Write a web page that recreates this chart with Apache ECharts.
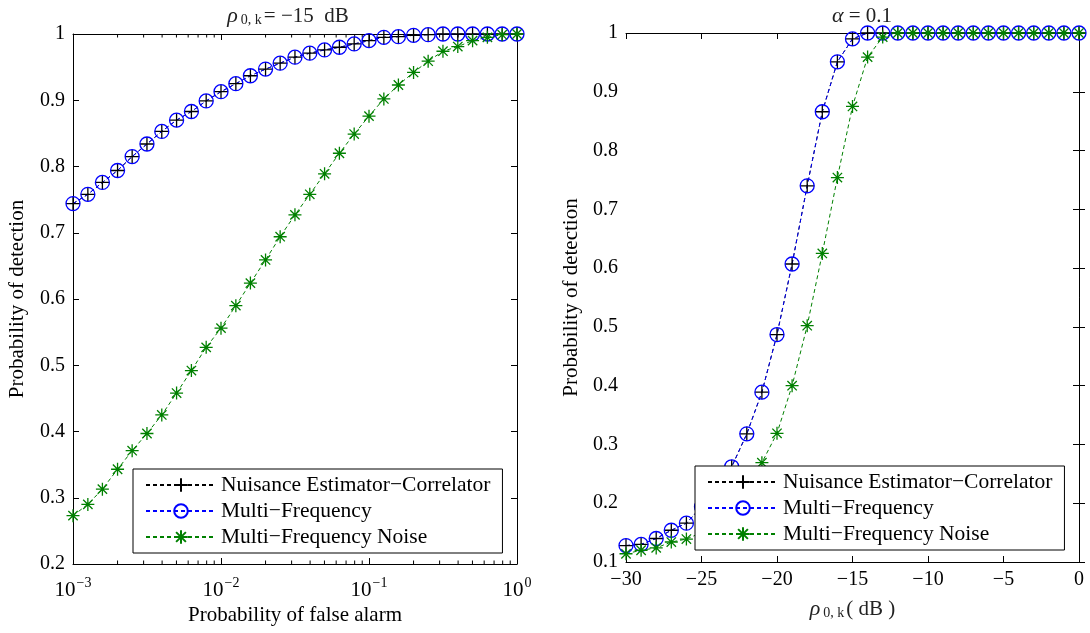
<!DOCTYPE html>
<html>
<head>
<meta charset="utf-8">
<script src="https://cdn.jsdelivr.net/npm/echarts@6/dist/echarts.min.js"></script>
<style>
html,body{margin:0;padding:0;background:#fff;}
#chart{width:1090px;height:633px;}
</style>
</head>
<body>
<div id="chart"></div>
<script>
// ---------------- data ----------------
const seriesNames = ['Nuisance Estimator\u2212Correlator', 'Multi\u2212Frequency', 'Multi\u2212Frequency Noise'];

// left panel: probability of false alarm (log axis)
const leftPfa = [0.001, 0.00126, 0.00158, 0.002, 0.00251, 0.00316, 0.00398, 0.00501, 0.00631, 0.00794,
                 0.01, 0.0126, 0.0158, 0.02, 0.0251, 0.0316, 0.0398, 0.0501, 0.0631, 0.0794,
                 0.1, 0.126, 0.158, 0.2, 0.251, 0.316, 0.398, 0.501, 0.631, 0.794, 1];
const leftNEC = [0.744, 0.758, 0.776, 0.794, 0.815, 0.834, 0.853, 0.870, 0.883, 0.899,
                 0.913, 0.925, 0.937, 0.947, 0.956, 0.965, 0.971, 0.976, 0.980, 0.985,
                 0.990, 0.995, 0.996, 0.998, 0.999, 1, 1, 1, 1, 1, 1];
const leftMF  = [0.744, 0.758, 0.776, 0.794, 0.815, 0.834, 0.853, 0.870, 0.883, 0.899,
                 0.913, 0.925, 0.937, 0.947, 0.956, 0.965, 0.971, 0.976, 0.980, 0.985,
                 0.990, 0.995, 0.996, 0.998, 0.999, 1, 1, 1, 1, 1, 1];
const leftMFN = [0.273, 0.290, 0.313, 0.343, 0.371, 0.397, 0.425, 0.458, 0.492, 0.527,
                 0.556, 0.590, 0.624, 0.659, 0.694, 0.727, 0.758, 0.789, 0.820, 0.849,
                 0.876, 0.902, 0.923, 0.942, 0.959, 0.974, 0.981, 0.990, 0.995, 0.999, 1];
const leftMinorTicks = [0.002, 0.003, 0.004, 0.005, 0.006, 0.007, 0.008, 0.009,
                        0.02, 0.03, 0.04, 0.05, 0.06, 0.07, 0.08, 0.09,
                        0.2, 0.3, 0.4, 0.5, 0.6, 0.7, 0.8, 0.9];

// right panel: rho_{0,k} in dB
const rightSnr = [-30, -29, -28, -27, -26, -25, -24, -23, -22, -21, -20, -19, -18, -17, -16, -15,
                  -14, -13, -12, -11, -10, -9, -8, -7, -6, -5, -4, -3, -2, -1, 0];
const rightNEC = [0.128, 0.130, 0.140, 0.154, 0.166, 0.194, 0.225, 0.262, 0.318, 0.389, 0.487, 0.607,
                  0.740, 0.866, 0.951, 0.990, 1, 1, 1, 1, 1, 1, 1, 1, 1, 1, 1, 1, 1, 1, 1];
const rightMF  = [0.128, 0.130, 0.140, 0.154, 0.166, 0.194, 0.225, 0.262, 0.318, 0.389, 0.487, 0.607,
                  0.740, 0.866, 0.951, 0.990, 1, 1, 1, 1, 1, 1, 1, 1, 1, 1, 1, 1, 1, 1, 1];
const rightMFN = [0.114, 0.120, 0.124, 0.134, 0.139, 0.150, 0.170, 0.200, 0.235, 0.269, 0.319, 0.400,
                  0.502, 0.625, 0.754, 0.875, 0.959, 0.993, 1, 1, 1, 1, 1, 1, 1, 1, 1, 1, 1, 1, 1];

// ---------------- styling ----------------
const FONT = 'Liberation Serif';
const BLACK = '#000000', BLUE = '#0000ff', GREEN = '#008000';
const PLUS = 'path://M0,-1L0,1M-1,0L1,0';
const STAR = 'path://M0,-1L0,1M-1,0L1,0M-0.72,-0.72L0.72,0.72M-0.72,0.72L0.72,-0.72';
const DASH = [4, 3];

function zip(xs, ys) { return xs.map((x, i) => [x, ys[i]]); }
function minus(v) { return v < 0 ? '\u2212' + (-v) : String(v); }
function yFmt(v) { return Math.abs(v - 1) < 1e-9 ? '1' : v.toFixed(1); }

function mkSeries(name, data, xi, yi, kind) {
  const base = {
    name: name, type: 'line', xAxisIndex: xi, yAxisIndex: yi, data: data,
    showAllSymbol: true, animation: false, z: 3,
    emphasis: { disabled: true }
  };
  if (kind === 0) {
    Object.assign(base, {
      symbol: PLUS, symbolSize: 14,
      lineStyle: { color: BLACK, width: 1, type: DASH },
      itemStyle: { color: 'rgba(0,0,0,0)', borderColor: BLACK, borderWidth: 1.3 }
    });
  } else if (kind === 1) {
    Object.assign(base, {
      symbol: 'circle', symbolSize: 14,
      lineStyle: { color: BLUE, width: 1, type: DASH },
      itemStyle: { color: 'rgba(0,0,0,0)', borderColor: BLUE, borderWidth: 1.3 }
    });
  } else {
    Object.assign(base, {
      symbol: STAR, symbolSize: 13,
      lineStyle: { color: GREEN, width: 1, type: DASH },
      itemStyle: { color: 'rgba(0,0,0,0)', borderColor: GREEN, borderWidth: 1.3 }
    });
  }
  return base;
}

const axisLineStyle = { show: true, lineStyle: { color: BLACK, width: 1 } };
const tickStyle = { show: true, inside: true, length: 6, lineStyle: { color: BLACK, width: 1 } };
const labelStyle = { color: BLACK, fontFamily: FONT, fontSize: 20 };

const legendCommon = {
  orient: 'vertical',
  backgroundColor: '#ffffff',
  borderColor: BLACK, borderWidth: 1, borderRadius: 0,
  padding: [5, 12, 5, 12],
  itemWidth: 70, itemHeight: 17, itemGap: 4,
  textStyle: { color: BLACK, fontFamily: FONT, fontSize: 21.5, lineHeight: 22 },
  selectedMode: false
};

const mathRich = {
  r: { fontFamily: FONT, fontSize: 22, fontStyle: 'italic', fontWeight: 'normal', color: '#222' },
  s: { fontFamily: FONT, fontSize: 14, fontWeight: 'normal', color: '#222', padding: [8, 2, 0, 3] },
  n: { fontFamily: FONT, fontSize: 21, fontWeight: 'normal', color: '#222' }
};

const option = {
  backgroundColor: '#ffffff',
  animation: false,
  title: [
    {
      text: '{r|\u03C1}{s|0, k}{n|= \u221215  dB}',
      left: 283, top: 0, textAlign: 'center',
      textStyle: { fontWeight: 'normal', fontFamily: FONT, rich: mathRich }
    },
    {
      text: '{r|\u03B1}{n| = 0.1}',
      left: 857, top: 0, textAlign: 'center',
      textStyle: { fontWeight: 'normal', fontFamily: FONT, rich: mathRich }
    }
  ],
  legend: [
    Object.assign({}, legendCommon, { left: 133, top: 469, data: seriesNames.slice(), id: 'L' }),
    Object.assign({}, legendCommon, { left: 695, top: 466, data: seriesNames.slice(), id: 'R' })
  ],
  grid: [
    { left: 73, right: 573, top: 34, bottom: 69 },
    { left: 626, right: 11, top: 33, bottom: 71 }
  ],
  xAxis: [
    {
      gridIndex: 0, type: 'log', logBase: 10, min: 0.001, max: 1, position: 'bottom',
      axisLine: axisLineStyle, axisTick: tickStyle, splitLine: { show: false },
      axisLabel: {
        margin: 12,
        formatter: function (v) {
          const e = Math.round(Math.log10(v));
          return '{b|10}{s|' + minus(e) + '}';
        },
        rich: {
          b: { fontFamily: FONT, fontSize: 21, color: BLACK },
          s: { fontFamily: FONT, fontSize: 14, color: BLACK, padding: [0, 0, 14, 1] }
        }
      },
      name: 'Probability of false alarm', nameLocation: 'middle', nameGap: 40,
      nameTextStyle: { color: BLACK, fontFamily: FONT, fontSize: 21 }
    },
    {
      gridIndex: 0, type: 'log', logBase: 10, min: 0.001, max: 1, position: 'top',
      axisLine: axisLineStyle, axisTick: tickStyle, axisLabel: { show: false }, splitLine: { show: false }
    },
    {
      gridIndex: 1, type: 'value', min: -30, max: 0, interval: 5, position: 'bottom',
      axisLine: axisLineStyle, axisTick: tickStyle, splitLine: { show: false },
      axisLabel: Object.assign({}, labelStyle, { margin: 8, formatter: minus }),
      name: '{r|\u03C1}{s|0, k}{n|( dB )}', nameLocation: 'middle', nameGap: 36,
      nameTextStyle: { rich: mathRich }
    },
    {
      gridIndex: 1, type: 'value', min: -30, max: 0, interval: 5, position: 'top',
      axisLine: axisLineStyle, axisTick: tickStyle, axisLabel: { show: false }, splitLine: { show: false }
    }
  ],
  yAxis: [
    {
      gridIndex: 0, type: 'value', min: 0.2, max: 1, interval: 0.1, position: 'left',
      axisLine: axisLineStyle, axisTick: tickStyle, splitLine: { show: false },
      axisLabel: Object.assign({}, labelStyle, { margin: 8, formatter: yFmt }),
      name: 'Probability of detection', nameLocation: 'middle', nameGap: 45, nameRotate: 90,
      nameTextStyle: { color: BLACK, fontFamily: FONT, fontSize: 21 }
    },
    {
      gridIndex: 0, type: 'value', min: 0.2, max: 1, interval: 0.1, position: 'right',
      axisLine: axisLineStyle, axisTick: tickStyle, axisLabel: { show: false }, splitLine: { show: false }
    },
    {
      gridIndex: 1, type: 'value', min: 0.1, max: 1, interval: 0.1, position: 'left',
      axisLine: axisLineStyle, axisTick: tickStyle, splitLine: { show: false },
      axisLabel: Object.assign({}, labelStyle, { margin: 8, formatter: yFmt }),
      name: 'Probability of detection', nameLocation: 'middle', nameGap: 44, nameRotate: 90,
      nameTextStyle: { color: BLACK, fontFamily: FONT, fontSize: 21 }
    },
    {
      gridIndex: 1, type: 'value', min: 0.1, max: 1, interval: 0.1, position: 'right',
      axisLine: axisLineStyle, axisTick: tickStyle, axisLabel: { show: false }, splitLine: { show: false }
    }
  ],
  series: [
    {
      type: 'custom', xAxisIndex: 0, yAxisIndex: 0, silent: true, z: 2, animation: false,
      data: leftMinorTicks.map(v => [v]),
      renderItem: function (params, api) {
        const b = api.coord([api.value(0), 0.2]);
        const t = api.coord([api.value(0), 1]);
        const st = { stroke: BLACK, lineWidth: 1 };
        return {
          type: 'group', children: [
            { type: 'line', shape: { x1: b[0], y1: b[1], x2: b[0], y2: b[1] - 3.5 }, style: st },
            { type: 'line', shape: { x1: t[0], y1: t[1], x2: t[0], y2: t[1] + 3.5 }, style: st }
          ]
        };
      }
    },
    mkSeries(seriesNames[0], zip(leftPfa, leftNEC), 0, 0, 0),
    mkSeries(seriesNames[1], zip(leftPfa, leftMF), 0, 0, 1),
    mkSeries(seriesNames[2], zip(leftPfa, leftMFN), 0, 0, 2),
    mkSeries(seriesNames[0], zip(rightSnr, rightNEC), 2, 2, 0),
    mkSeries(seriesNames[1], zip(rightSnr, rightMF), 2, 2, 1),
    mkSeries(seriesNames[2], zip(rightSnr, rightMFN), 2, 2, 2)
  ]
};

const chart = echarts.init(document.getElementById('chart'), null, { renderer: 'canvas' });
chart.setOption(option);
</script>
</body>
</html>
